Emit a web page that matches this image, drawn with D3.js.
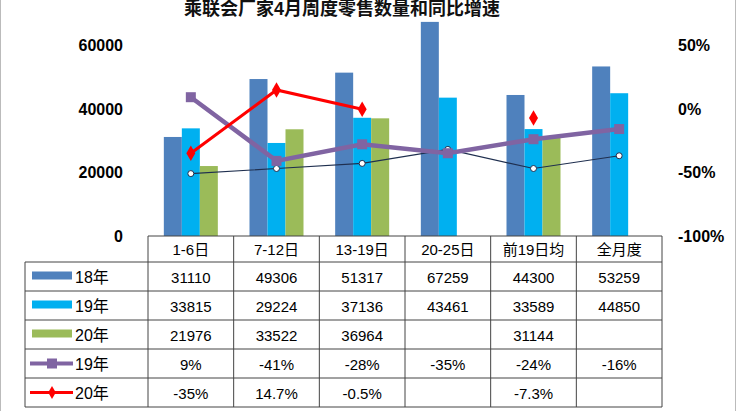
<!DOCTYPE html>
<html>
<head>
<meta charset="utf-8">
<script src="https://d3js.org/d3.v7.min.js"></script>
<style>
  body { margin: 0; background: #fff; }
  svg { display: block; font-family: "Liberation Sans", Arial, "Noto Sans CJK SC", sans-serif; }
</style>
</head>
<body>
<svg id="chart" width="736" height="411"></svg>
<script>
// Data
const categories = ['1-6日', '7-12日', '13-19日', '20-25日', '前19日均', '全月度'];
const sales18 = [31110, 49306, 51317, 67259, 44300, 53259];
const sales19 = [33815, 29224, 37136, 43461, 33589, 44850];
const sales20 = [21976, 33522, 36964, null, 31144, null];
const growth19 = [9, -41, -28, -35, -24, -16];
const growth20 = [-35, 14.7, -0.5, null, -7.3, null];
const growth20Labels = ['-35%', '14.7%', '-0.5%', '', '-7.3%', ''];
const ratioLine = [-51, -47, -43, -32, -47, -37];
const leftTicks = [0, 20000, 40000, 60000];
const rightTicks = [-100, -50, 0, 50];

const svg = d3.select('#chart');
const plotLeft = 148, plotRight = 662, plotTop = 45, plotBottom = 236;

const x = d3.scaleBand().domain(categories).range([plotLeft, plotRight]);
const yL = d3.scaleLinear().domain([0, 60000]).range([plotBottom, plotTop]);
const yR = d3.scaleLinear().domain([-100, 50]).range([plotBottom, plotTop]);

// frame
svg.append('rect').attr('x', 0.5).attr('y', -2).attr('width', 735).attr('height', 420)
    .attr('fill', 'none').attr('stroke', '#bbb');

// title
svg.append('text').attr('x', 342).attr('y', 15).attr('text-anchor', 'middle')
    .style('font-size', '18px').style('font-weight', 'bold').attr('fill', '#111')
    .text('乘联会厂家4月周度零售数量和同比增速');

// axes labels
svg.append('g').selectAll('text').data(leftTicks).enter().append('text')
    .attr('x', 123).attr('y', d => yL(d) + 6).attr('text-anchor', 'end')
    .style('font-size', '16px').style('font-weight', 'bold').text(d => d);
svg.append('g').selectAll('text').data(rightTicks).enter().append('text')
    .attr('x', 678).attr('y', d => yR(d) + 6)
    .style('font-size', '16px').style('font-weight', 'bold').text(d => d + '%');

// bars
const barW = 18;
const series = [
    { vals: sales18, color: '#4F81BD', off: -barW * 1.5 },
    { vals: sales19, color: '#00B0F0', off: -barW * 0.5 },
    { vals: sales20, color: '#9BBB59', off: barW * 0.5 }
];
const cx = c => x(c) + x.bandwidth() / 2;
series.forEach(s => {
    svg.append('g').selectAll('rect')
        .data(categories.map((c, i) => ({ c, v: s.vals[i] })).filter(d => d.v != null))
        .enter().append('rect')
        .attr('x', d => cx(d.c) + s.off).attr('width', barW)
        .attr('y', d => yL(d.v)).attr('height', d => plotBottom - yL(d.v))
        .attr('fill', s.color);
});

// lines
const pts = arr => categories.map((c, i) => ({ c, v: arr[i] }));
const line = d3.line().defined(d => d.v != null).x(d => cx(d.c)).y(d => yR(d.v));

svg.append('path').datum(pts(ratioLine)).attr('d', line)
    .attr('fill', 'none').attr('stroke', '#1F2F4F').attr('stroke-width', 1.2);
svg.append('g').selectAll('circle').data(pts(ratioLine)).enter().append('circle')
    .attr('cx', d => cx(d.c)).attr('cy', d => yR(d.v)).attr('r', 3)
    .attr('fill', '#fff').attr('stroke', '#1F2F4F').attr('stroke-width', 1);

svg.append('path').datum(pts(growth19)).attr('d', line)
    .attr('fill', 'none').attr('stroke', '#8064A2').attr('stroke-width', 4.5);
svg.append('g').selectAll('rect').data(pts(growth19)).enter().append('rect')
    .attr('x', d => cx(d.c) - 5).attr('y', d => yR(d.v) - 5).attr('width', 10).attr('height', 10)
    .attr('fill', '#8064A2');

svg.append('path').datum(pts(growth20)).attr('d', line)
    .attr('fill', 'none').attr('stroke', '#F00').attr('stroke-width', 3);
svg.append('g').selectAll('path').data(pts(growth20).filter(d => d.v != null)).enter().append('path')
    .attr('d', d3.symbol(d3.symbolDiamond, 70))
    .attr('transform', d => `translate(${cx(d.c)},${yR(d.v)})`)
    .attr('fill', '#F00');

// data table
const rowH = 29, headTop = 236, headH = 26;
const rows = [
    { label: '18年', vals: sales18.map(v => v ?? ''), kind: 'bar', color: '#4F81BD' },
    { label: '19年', vals: sales19.map(v => v ?? ''), kind: 'bar', color: '#00B0F0' },
    { label: '20年', vals: sales20.map(v => v ?? ''), kind: 'bar', color: '#9BBB59' },
    { label: '19年', vals: growth19.map(v => v + '%'), kind: 'sq', color: '#8064A2' },
    { label: '20年', vals: growth20Labels, kind: 'dia', color: '#F00' }
];
const tbl = svg.append('g').attr('stroke', '#444').attr('stroke-width', 1);
const tableBottom = headTop + headH + rowH * rows.length;
x.domain().forEach(c => {
    tbl.append('line').attr('x1', x(c)).attr('x2', x(c)).attr('y1', headTop).attr('y2', tableBottom);
});
tbl.append('line').attr('x1', plotRight).attr('x2', plotRight).attr('y1', headTop).attr('y2', tableBottom);
tbl.append('line').attr('x1', plotLeft).attr('x2', plotRight).attr('y1', headTop).attr('y2', headTop);
tbl.append('line').attr('x1', 25).attr('x2', 25).attr('y1', headTop + headH).attr('y2', tableBottom);
for (let r = 0; r <= rows.length; r++) {
    const yy = headTop + headH + r * rowH;
    tbl.append('line').attr('x1', 25).attr('x2', plotRight).attr('y1', yy).attr('y2', yy);
}
svg.append('g').selectAll('text').data(categories).enter().append('text')
    .attr('x', d => cx(d)).attr('y', headTop + 19).attr('text-anchor', 'middle')
    .style('font-size', '15px').text(d => d);

rows.forEach((r, i) => {
    const ym = headTop + headH + i * rowH + rowH / 2;
    const g = svg.append('g');
    if (r.kind === 'bar') {
        g.append('rect').attr('x', 32).attr('y', ym - 5).attr('width', 40).attr('height', 8).attr('fill', r.color);
    } else {
        g.append('line').attr('x1', 30).attr('x2', 73).attr('y1', ym).attr('y2', ym)
            .attr('stroke', r.color).attr('stroke-width', r.kind === 'sq' ? 4 : 3);
        if (r.kind === 'sq') g.append('rect').attr('x', 47).attr('y', ym - 5).attr('width', 10).attr('height', 10).attr('fill', r.color);
        else g.append('path').attr('d', d3.symbol(d3.symbolDiamond, 50)).attr('transform', `translate(52,${ym})`).attr('fill', r.color);
    }
    g.append('text').attr('x', 75).attr('y', ym + 6).style('font-size', '16px').text(r.label);
    g.selectAll('text.v').data(r.vals).enter().append('text').attr('class', 'v')
        .attr('x', (d, j) => cx(categories[j])).attr('y', ym + 6).attr('text-anchor', 'middle')
        .style('font-size', '15px').text(d => d);
});
</script>
</body>
</html>
